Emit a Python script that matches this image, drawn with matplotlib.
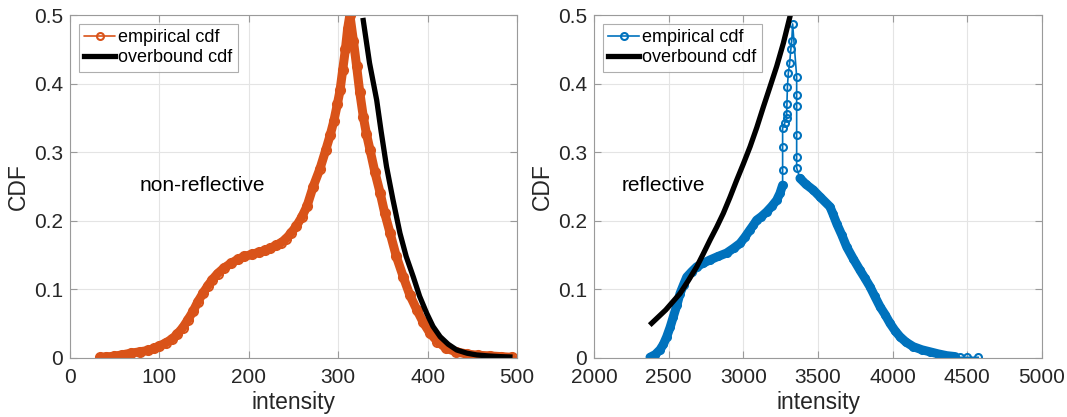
import numpy as np
import matplotlib
matplotlib.use('Agg')
import matplotlib.pyplot as plt

plt.rcParams['font.family'] = ['Liberation Sans', 'DejaVu Sans']

# -----------------------------------------------------------------------------
# non-reflective (left panel)

nr_x = [33.5, 40, 49, 58, 68, 78, 87.5, 94, 99, 107, 114.5, 120, 126, 132, 137.6,
        143, 149, 154, 159, 165, 172, 180, 188, 195, 203, 211, 218.6, 224, 230,
        236, 241.7, 247, 253, 259, 265, 272, 279.6, 286, 291, 295, 299, 302, 305,
        308, 310.5, 313,
        317, 320.6, 324, 328, 331.5, 335.6, 341, 347, 352, 358, 365, 372.8, 380,
        388, 395, 402.7, 411, 421, 432, 443.7, 456, 470, 482, 494]
nr_y = [0.001, 0.0015, 0.0025, 0.0045, 0.007, 0.009, 0.011, 0.014, 0.017, 0.022,
        0.028, 0.035, 0.044, 0.056, 0.068, 0.082, 0.095, 0.105, 0.114, 0.123,
        0.131, 0.138, 0.144, 0.148, 0.151, 0.154, 0.157, 0.160, 0.164, 0.168,
        0.174, 0.182, 0.192, 0.205, 0.221, 0.250, 0.276, 0.303, 0.325, 0.345,
        0.370, 0.390, 0.420, 0.450, 0.480, 0.5,
        0.462, 0.425, 0.388, 0.352, 0.327, 0.303, 0.271, 0.240, 0.211, 0.182,
        0.148, 0.118, 0.092, 0.070, 0.052, 0.036, 0.024, 0.014, 0.009, 0.0058,
        0.004, 0.003, 0.002, 0.001]

nr_ob_x = [328, 335, 343, 348, 354, 361, 369, 376, 384, 391, 399, 406, 414, 423,
           432.5, 444, 455, 468, 481, 492]
nr_ob_y = [0.492, 0.430, 0.376, 0.330, 0.279, 0.232, 0.182, 0.148, 0.118, 0.090,
           0.065, 0.046, 0.031, 0.020, 0.0117, 0.007, 0.0044, 0.003, 0.002, 0.0015]

# -----------------------------------------------------------------------------
# reflective (right panel)

r_x = [2375, 2410, 2442, 2465, 2487, 2510, 2531, 2555, 2576, 2600, 2621, 2655,
       2688, 2730, 2777, 2830, 2888, 2935, 2978, 3010, 3045, 3068, 3089, 3120,
       3156, 3190, 3223, 3245, 3263,
       3263, 3263, 3263, 3278, 3290, 3290, 3292, 3295, 3301, 3310, 3318, 3324,
       3330, 3357, 3357, 3357, 3357, 3357, 3357,
       3379, 3420, 3468, 3513, 3580, 3600, 3625, 3660, 3692, 3735, 3781, 3815,
       3848, 3880, 3915, 3950, 3982, 4015, 4049, 4090, 4138, 4195, 4250, 4305,
       4362, 4420, 4450, 4495, 4573]
r_y = [0.001, 0.005, 0.012, 0.020, 0.031, 0.045, 0.060, 0.077, 0.094, 0.107,
       0.118, 0.126, 0.133, 0.138, 0.143, 0.148, 0.153, 0.160, 0.167, 0.176,
       0.187, 0.194, 0.201, 0.206, 0.213, 0.221, 0.230, 0.240, 0.252,
       0.2735, 0.308, 0.335, 0.343, 0.350, 0.355, 0.371, 0.395, 0.415, 0.430,
       0.450, 0.462, 0.487,
       0.410, 0.383, 0.368, 0.325, 0.2925, 0.277,
       0.262, 0.253, 0.245, 0.235, 0.2205, 0.210, 0.196, 0.179, 0.162, 0.145,
       0.128, 0.116, 0.104, 0.090, 0.075, 0.063, 0.0506, 0.040, 0.031, 0.023,
       0.0165, 0.012, 0.009, 0.006, 0.0034, 0.002, 0.001, 0.001, 0.001]

r_ob_x = [2386, 2480, 2576, 2632, 2688, 2732, 2777, 2822, 2866, 2910, 2955, 3000,
          3045, 3090, 3134, 3178, 3223, 3268, 3312]
r_ob_y = [0.0506, 0.070, 0.094, 0.113, 0.133, 0.152, 0.172, 0.191, 0.211, 0.234,
          0.259, 0.283, 0.308, 0.336, 0.366, 0.395, 0.425, 0.459, 0.4976]

# -----------------------------------------------------------------------------

orange = '#D95319'
blue = '#0072BD'
dark = '#262626'
edge = '#9a9a9a'

fig = plt.figure(figsize=(10.67, 4.17), dpi=100)
ax1 = fig.add_axes([0.0656, 0.1415, 0.4190, 0.8225])
ax2 = fig.add_axes([0.5567, 0.1415, 0.4199, 0.8225])


def style(ax, xlim, xticks):
    ax.set_xlim(*xlim)
    ax.set_ylim(0, 0.5)
    ax.set_xticks(xticks)
    ax.set_yticks([0, 0.1, 0.2, 0.3, 0.4, 0.5])
    ax.set_yticklabels(['0', '0.1', '0.2', '0.3', '0.4', '0.5'])
    ax.grid(True, color='#e4e4e4', linewidth=0.8)
    ax.set_axisbelow(True)
    for s in ax.spines.values():
        s.set_color(edge)
        s.set_linewidth(0.8)
    ax.tick_params(direction='in', top=True, right=True, length=5,
                   color=edge, labelsize=15, labelcolor=dark, pad=5)
    ax.tick_params(axis='x', pad=7)
    ax.set_xlabel('intensity', fontsize=16.5, color=dark, labelpad=3)
    ax.set_ylabel('CDF', fontsize=16.5, color=dark, labelpad=3)


ax1.plot(nr_x, nr_y, '-o', color=orange, linewidth=6.5, markersize=6.5,
         markerfacecolor='none', markeredgewidth=1.5,
         solid_capstyle='round', label='empirical cdf')
ax1.plot(nr_ob_x, nr_ob_y, '-', color='black', linewidth=3.8, label='overbound cdf')
ax1.text(78, 0.252, 'non-reflective', fontsize=15, va='center', color='black')
style(ax1, (0, 500), [0, 100, 200, 300, 400, 500])

ax2.plot(r_x, r_y, '-o', color=blue, linewidth=1.2, markersize=5,
         markerfacecolor='none', markeredgewidth=1.5, label='empirical cdf')
# densely sampled parts read as a solid band
ax2.plot(r_x[:29], r_y[:29], '-', color=blue, linewidth=6.5, solid_capstyle='round')
ax2.plot(r_x[48:-3], r_y[48:-3], '-', color=blue, linewidth=6.5, solid_capstyle='round')
ax2.plot(r_ob_x, r_ob_y, '-', color='black', linewidth=3.8, label='overbound cdf')
ax2.text(2185, 0.252, 'reflective', fontsize=15, va='center', color='black')
style(ax2, (2000, 5000), [2000, 2500, 3000, 3500, 4000, 4500, 5000])

for ax in (ax1, ax2):
    leg = ax.legend(loc='upper left', fontsize=13, frameon=True, fancybox=False,
                    handlelength=1.7, handletextpad=0.15, borderpad=0.3,
                    labelspacing=0.15, borderaxespad=0.5)
    leg.get_frame().set_edgecolor(edge)
    leg.get_frame().set_linewidth(0.8)
    leg.legend_handles[0].set_linewidth(1.2)
    leg.legend_handles[0].set_markersize(5)
    for t in leg.get_texts():
        t.set_color('black')

fig.savefig('out.png', dpi=100)
